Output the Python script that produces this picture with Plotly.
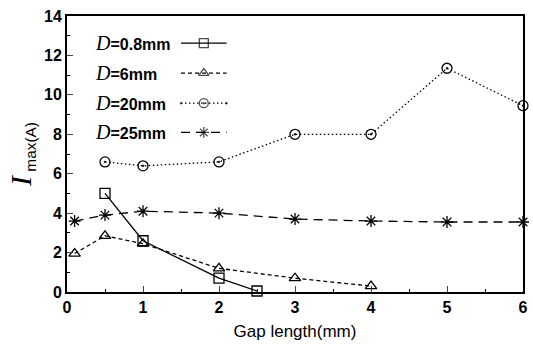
import plotly.graph_objects as go

# Maximum current vs gap length for four electrode diameters
gap_08 = [0.5, 1, 2, 2.5]
imax_08 = [5.0, 2.6, 0.7, 0.05]

gap_6 = [0.1, 0.5, 1, 2, 3, 4]
imax_6 = [1.95, 2.85, 2.45, 1.2, 0.7, 0.3]

gap_20 = [0.5, 1, 2, 3, 4, 5, 6]
imax_20 = [6.6, 6.4, 6.6, 8.0, 8.0, 11.35, 9.45]

gap_25 = [0.1, 0.5, 1, 2, 3, 4, 5, 6]
imax_25 = [3.6, 3.9, 4.1, 4.0, 3.7, 3.6, 3.55, 3.55]

labels = ["0.8", "6", "20", "25"]
x_ticks = [0, 1, 2, 3, 4, 5, 6]
y_ticks = [0, 2, 4, 6, 8, 10, 12, 14]

series = [
    (gap_08, imax_08, "solid", "square-open"),
    (gap_6, imax_6, "4px,3px", "triangle-up-open"),
    (gap_20, imax_20, "1.5px,2.5px", "circle-open-dot"),
    (gap_25, imax_25, "9px,6px", "asterisk-open"),
]

fig = go.Figure()
for (xs, ys, dash, sym) in series:
    fig.add_trace(go.Scatter(
        x=xs, y=ys, mode="lines+markers",
        line=dict(color="black", width=1.3, dash=dash),
        marker=dict(symbol=sym, size=10, color="black", line=dict(width=1.3, color="black")),
        showlegend=False, cliponaxis=False,
    ))

# Hand-built key: label text followed by a line sample with its marker
key_rows = [0.902, 0.793, 0.684, 0.578]
for (lab, row, (xs, ys, dash, sym)) in zip(labels, key_rows, series):
    fig.add_annotation(
        xref="paper", yref="paper", x=0.056, y=row, xanchor="left", yanchor="middle",
        text=f"<span style='font-family:Liberation Serif;font-style:italic;font-weight:normal;font-size:20px'>D</span>"
             f"={lab}mm",
        showarrow=False, font=dict(family="Liberation Sans", size=16, color="black", weight="bold"),
    )
    fig.add_trace(go.Scatter(
        x=[0.25, 0.30, 0.35], y=[row, row, row], xaxis="x2", yaxis="y2",
        mode="lines+markers",
        line=dict(color="black", width=1.3, dash=dash),
        marker=dict(symbol=sym, size=[0, 9, 0], color="black", line=dict(width=1.3, color="black")),
        showlegend=False, hoverinfo="skip",
    ))

axis_font = dict(family="Liberation Sans", size=16, color="black", weight="bold")
fig.update_layout(
    width=533, height=345,
    margin=dict(l=67, r=5, t=16, b=53),
    paper_bgcolor="white", plot_bgcolor="white",
    xaxis=dict(
        range=[0, 6], tickvals=x_ticks, ticks="inside", ticklen=6, tickwidth=1.2,
        showline=True, linewidth=2, linecolor="black", mirror=True, showgrid=False,
        zeroline=False, tickfont=axis_font,
        minor=dict(dtick=0.5, ticks="inside", ticklen=3, tickwidth=1, tickcolor="black"),
        title=dict(text="Gap length(mm)", font=dict(family="Liberation Sans", size=17, color="black"), standoff=10),
    ),
    yaxis=dict(
        range=[0, 14], tickvals=y_ticks, ticks="inside", ticklen=6, tickwidth=1.2,
        showline=True, linewidth=2, linecolor="black", mirror=True, showgrid=False,
        zeroline=False, tickfont=axis_font,
        minor=dict(dtick=1, ticks="inside", ticklen=3, tickwidth=1, tickcolor="black"),
        title=dict(
            text="<span style='font-family:Liberation Serif;font-style:italic;font-size:30px'>I</span>"
                 "<sub> max(A)</sub>",
            font=dict(family="Liberation Sans", size=22, color="black"), standoff=6,
        ),
    ),
    xaxis2=dict(range=[0, 1], overlaying="x", visible=False, fixedrange=True),
    yaxis2=dict(range=[0, 1], overlaying="y", visible=False, fixedrange=True),
)

fig.write_html("out.html")
